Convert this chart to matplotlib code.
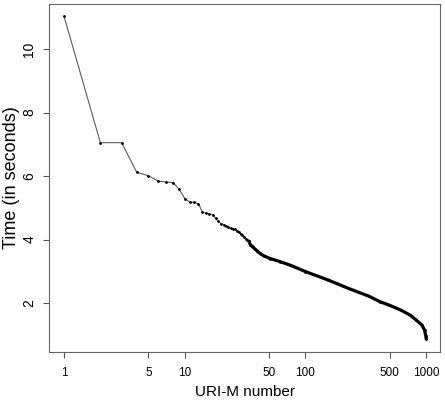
import matplotlib
matplotlib.use('Agg')
import matplotlib.pyplot as plt
from matplotlib.ticker import FixedLocator, NullLocator, FixedFormatter

plt.rcParams['font.family'] = ['Liberation Sans', 'DejaVu Sans']

# rank of each URI-M (sorted by time) and the time
ranks = [1, 2, 3, 4, 5, 6, 7, 8, 9, 10, 11, 12, 13, 14, 15, 16, 17, 18, 19, 20,
         21, 22, 23, 24, 25, 26, 27, 28, 29, 30, 31, 32, 33, 34, 35, 36, 37, 40,
         42, 45, 51, 62, 75, 100, 155, 227, 333, 415, 489, 614, 736, 828, 920,
         970, 995, 1000]
times = [11.03, 7.05, 7.05, 6.12, 6.01, 5.84, 5.81, 5.79, 5.58, 5.29, 5.18, 5.17,
         5.12, 4.87, 4.83, 4.81, 4.78, 4.67, 4.57, 4.50, 4.47, 4.43, 4.38, 4.35,
         4.33, 4.32, 4.28, 4.24, 4.18, 4.13, 4.07, 4.03, 3.98, 3.95, 3.83, 3.79,
         3.75, 3.63, 3.56, 3.49, 3.40, 3.30, 3.19, 2.99, 2.72, 2.46, 2.22, 2.04,
         1.94, 1.78, 1.62, 1.46, 1.31, 1.15, 0.95, 0.87]

x_ticks = [1, 5, 10, 50, 100, 500, 1000]
y_ticks = [2, 4, 6, 8, 10]

fig = plt.figure(figsize=(4.45, 4.03), dpi=100)
ax = fig.add_axes([0.1108, 0.1273, 0.878, 0.8627])

ax.plot(ranks, times, color='#5a5a5a', lw=0.8, marker='o', ms=2.0,
        mfc='black', mec='black', mew=0)
# dense part of the curve: markers overlap into a solid thick line
dense = [i for i, r in enumerate(ranks) if r >= 34]
ax.plot([ranks[i] for i in dense], [times[i] for i in dense],
        color='black', lw=2.3, solid_capstyle='round')

ax.set_xscale('log')
ax.set_xlim(0.755, 1303)
ax.set_ylim(0.466, 11.417)

ax.xaxis.set_major_locator(FixedLocator(x_ticks))
ax.xaxis.set_major_formatter(FixedFormatter([str(t) for t in x_ticks]))
ax.xaxis.set_minor_locator(NullLocator())
ax.yaxis.set_major_locator(FixedLocator(y_ticks))

for s in ax.spines.values():
    s.set_color('#666666')
    s.set_linewidth(0.8)

ax.tick_params(axis='x', length=4.3, width=0.8, color='#555555', labelsize=8.5, pad=7)
ax.tick_params(axis='y', length=4.3, width=0.8, color='#555555', labelsize=10, pad=5)
for lbl in ax.get_yticklabels():
    lbl.set_rotation(90)
    lbl.set_va('center')

ax.set_xlabel('URI-M number', fontsize=11)
ax.xaxis.set_label_coords(0.5, -0.095)
ax.set_ylabel('Time (in seconds)', fontsize=13)
ax.yaxis.set_label_coords(-0.074, 0.5)

fig.savefig('out.png', dpi=100)
